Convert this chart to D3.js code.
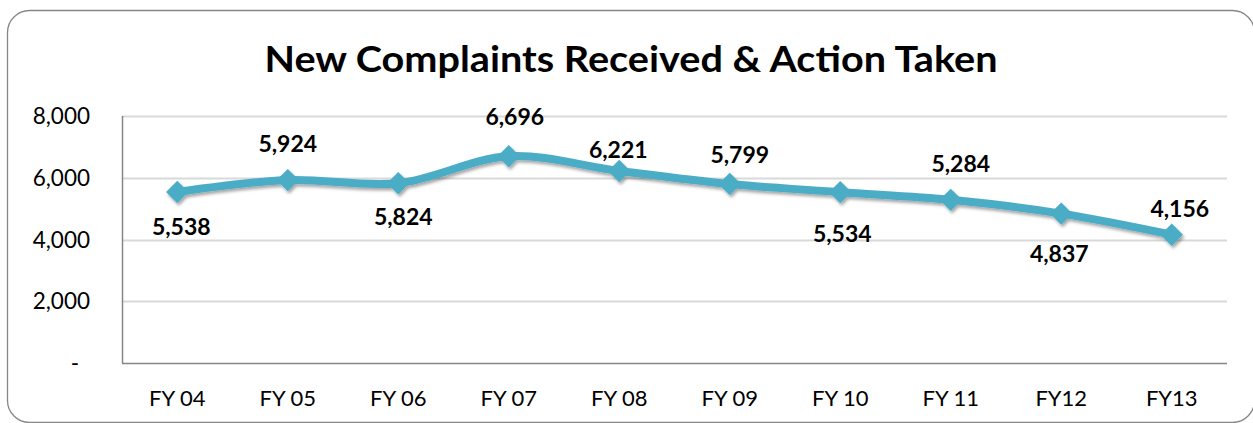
<!DOCTYPE html>
<html>
<head>
<meta charset="utf-8">
<script src="https://cdn.jsdelivr.net/npm/d3@7"></script>
<style>
  body { margin: 0; background: #fff; }
  text { font-family: Lato, "Open Sans", sans-serif; }
</style>
</head>
<body>
<script>
var w = 1253;
var h = 423;

var categories = ["FY 04", "FY 05", "FY 06", "FY 07", "FY 08", "FY 09", "FY 10", "FY 11", "FY12", "FY13"];
var complaints = [5538, 5924, 5824, 6696, 6221, 5799, 5534, 5284, 4837, 4156];
var yTicks = [0, 2000, 4000, 6000, 8000];

var margin = {left: 122, right: 26, top: 116, bottom: 60};

// data label placement (pixel nudge from each point, as in the original)
var labelNudge = [[4, 43], [0, -28], [5, 42], [6, -31], [-1, -13],
                  [10, -21], [2, 50], [10, -28], [-2, 48], [8, -18]];

var xScale = d3.scaleBand()
    .domain(categories)
    .range([margin.left, w - margin.right]);

var yScale = d3.scaleLinear()
    .domain([0, 8000])
    .range([h - margin.bottom, margin.top]);

function px(i) { return xScale(categories[i]) + xScale.bandwidth() / 2; }

var svg = d3.select("body")
    .append("svg")
    .attr("width", w)
    .attr("height", h);

var defs = svg.append("defs");
var shadow = defs.append("filter")
    .attr("id", "shadow")
    .attr("x", "-20%").attr("y", "-50%")
    .attr("width", "140%").attr("height", "200%");
shadow.append("feDropShadow")
    .attr("dx", 1.5).attr("dy", 2.5)
    .attr("stdDeviation", 1.8)
    .attr("flood-color", "#000")
    .attr("flood-opacity", 0.35);

// outer frame
svg.append("rect")
    .attr("x", 7.5).attr("y", 10.5)
    .attr("width", 1247).attr("height", 412)
    .attr("rx", 22).attr("ry", 22)
    .attr("fill", "#fff")
    .attr("stroke", "#868686")
    .attr("stroke-width", 1.3);

svg.append("text")
    .attr("x", 631)
    .attr("y", 72)
    .attr("text-anchor", "middle")
    .attr("font-size", 36)
    .attr("font-weight", "bold")
    .attr("fill", "#000")
    .attr("textLength", 733)
    .attr("lengthAdjust", "spacingAndGlyphs")
    .text("New Complaints Received & Action Taken");

// gridlines
svg.append("g")
    .selectAll("line")
    .data(yTicks.slice(1))
    .enter()
    .append("line")
    .attr("x1", margin.left)
    .attr("x2", w - margin.right)
    .attr("y1", function(d) { return Math.round(yScale(d)) + 0.5; })
    .attr("y2", function(d) { return Math.round(yScale(d)) + 0.5; })
    .attr("stroke", "#d9d9d9")
    .attr("stroke-width", 2);

// axes lines
svg.append("line")
    .attr("x1", margin.left + 0.5).attr("x2", margin.left + 0.5)
    .attr("y1", margin.top).attr("y2", yScale(0))
    .attr("stroke", "#868686").attr("stroke-width", 1.5);
svg.append("line")
    .attr("x1", margin.left).attr("x2", w - margin.right)
    .attr("y1", yScale(0) + 0.5).attr("y2", yScale(0) + 0.5)
    .attr("stroke", "#868686").attr("stroke-width", 1.5);

// y tick labels
svg.append("g")
    .selectAll("text")
    .data(yTicks)
    .enter()
    .append("text")
    .attr("x", function(d) { return d === 0 ? 79 : 90; })
    .attr("y", function(d) { return yScale(d) + 8; })
    .attr("text-anchor", "end")
    .attr("font-size", 22.5)
    .attr("fill", "#000")
    .text(function(d) { return d === 0 ? "-" : d3.format(",")(d); });

// x tick labels
svg.append("g")
    .selectAll("text")
    .data(categories)
    .enter()
    .append("text")
    .attr("x", function(d) { return xScale(d) + xScale.bandwidth() / 2; })
    .attr("y", 406)
    .attr("text-anchor", "middle")
    .attr("font-size", 22)
    .attr("fill", "#000")
    .text(function(d) { return d; });

var line = d3.line()
    .x(function(d, i) { return px(i); })
    .y(function(d) { return yScale(d); })
    .curve(d3.curveCatmullRom.alpha(0.5));

var series = svg.append("g").attr("filter", "url(#shadow)");

series.append("path")
    .datum(complaints)
    .attr("d", line)
    .attr("fill", "none")
    .attr("stroke", "#4bacc6")
    .attr("stroke-width", 8)
    .attr("stroke-linejoin", "round");

series.selectAll("path.marker")
    .data(complaints)
    .enter()
    .append("path")
    .attr("class", "marker")
    .attr("d", d3.symbol().type(d3.symbolDiamond2).size(320))
    .attr("transform", function(d, i) {
        return "translate(" + px(i) + "," + yScale(d) + ")";
    })
    .attr("fill", "#4bacc6");

// data labels
svg.append("g")
    .selectAll("text")
    .data(complaints)
    .enter()
    .append("text")
    .attr("x", function(d, i) { return px(i) + labelNudge[i][0]; })
    .attr("y", function(d, i) { return yScale(d) + labelNudge[i][1]; })
    .attr("text-anchor", "middle")
    .attr("font-size", 23)
    .attr("font-weight", "bold")
    .attr("fill", "#000")
    .text(function(d) { return d3.format(",")(d); });
</script>
</body>
</html>
